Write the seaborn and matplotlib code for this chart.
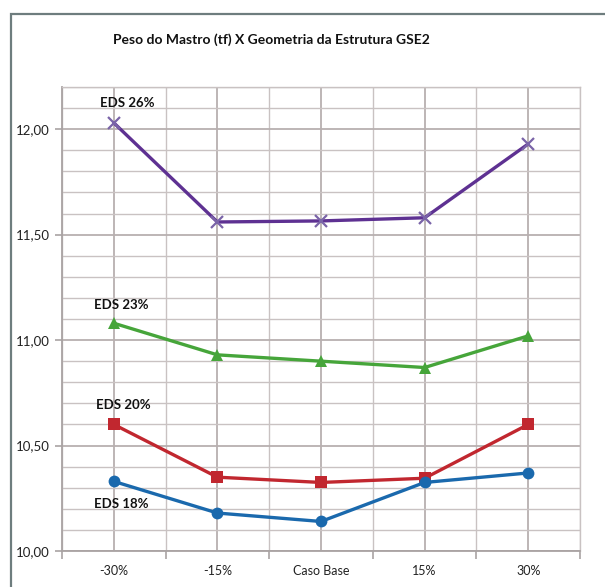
import matplotlib
matplotlib.use("Agg")
import matplotlib.pyplot as plt
from matplotlib.patches import Rectangle
from matplotlib.ticker import MultipleLocator, FixedLocator
import pandas as pd
import seaborn as sns

# Geometry cases on the x axis
categories = ["-30%", "-15%", "Caso Base", "15%", "30%"]

# Mast weight (tf) for each EDS level
eds26 = [12.03, 11.56, 11.565, 11.58, 11.93]
eds23 = [11.08, 10.93, 10.90, 10.87, 11.02]
eds20 = [10.60, 10.35, 10.325, 10.345, 10.60]
eds18 = [10.33, 10.18, 10.14, 10.325, 10.37]

series_names = ["EDS 26%", "EDS 23%", "EDS 20%", "EDS 18%"]
series_values = [eds26, eds23, eds20, eds18]

y_ticks = [10.0, 10.5, 11.0, 11.5, 12.0]
y_tick_labels = ["10,00", "10,50", "11,00", "11,50", "12,00"]

sns.set_style("white")
plt.rcParams["font.family"] = ["Lato", "DejaVu Sans"]

fig = plt.figure(figsize=(6.05, 5.87), dpi=100)
ax = fig.add_axes([62 / 605, 1 - 551 / 587, (580 - 62) / 605, (551 - 87) / 587])

styles = {
    "EDS 26%": dict(color="#5e3192", marker="x", ms=9, mew=1.6, mec="#7a64a8"),
    "EDS 23%": dict(color="#46a53a", marker="^", ms=8, mew=0, mec="#46a53a"),
    "EDS 20%": dict(color="#c1272f", marker="s", ms=8, mew=0, mec="#c1272f"),
    "EDS 18%": dict(color="#1a69ad", marker="o", ms=8.5, mew=0, mec="#1a69ad"),
}

frames = []
for name, vals in zip(series_names, series_values):
    frames.append(pd.DataFrame({"caso": categories, "peso": vals, "serie": name}))
df = pd.concat(frames, ignore_index=True)

for name in series_names:
    st = styles[name]
    sub = df[df["serie"] == name]
    sns.lineplot(data=sub, x="caso", y="peso", ax=ax, color=st["color"],
                 linewidth=2.4, marker=st["marker"], markersize=st["ms"],
                 markeredgewidth=st["mew"], markeredgecolor=st["mec"],
                 markerfacecolor=st["color"], sort=False, zorder=3)

# Series labels next to the first point
label_offsets = {
    "EDS 26%": (13, 20),
    "EDS 23%": (7, 18),
    "EDS 20%": (10, 19),
    "EDS 18%": (7, -23),
}
for name, vals in zip(series_names, series_values):
    dx, dy = label_offsets[name]
    ax.annotate(name, xy=(0, vals[0]), xytext=(dx, dy), textcoords="offset pixels",
                ha="center", va="center", fontsize=9.5, fontweight="bold",
                color="#111111", zorder=4)

ax.set_xlim(-0.5, 4.5)
ax.set_ylim(10.0, 12.2)
ax.set_xlabel("")
ax.set_ylabel("")

ax.yaxis.set_major_locator(FixedLocator(y_ticks))
ax.set_yticklabels(y_tick_labels)
ax.yaxis.set_minor_locator(MultipleLocator(0.1))
ax.xaxis.set_major_locator(FixedLocator(range(len(categories))))
ax.set_xticklabels(categories)
ax.xaxis.set_minor_locator(MultipleLocator(0.5))

grid_col = "#c9c2c2"
ax.grid(which="minor", axis="both", color=grid_col, linewidth=1.0, zorder=0)
ax.grid(which="major", axis="both", color="#b8b0b0", linewidth=1.3, zorder=0)
ax.set_axisbelow(True)

ax.tick_params(axis="x", which="major", length=0, pad=10, labelsize=9, labelcolor="#222222")
ax.tick_params(axis="x", which="minor", length=6, width=1.2, color="#a9a3a3", bottom=True)
ax.tick_params(axis="y", which="major", length=5, width=1.2, color="#a9a3a3", pad=4,
               labelsize=9.5, labelcolor="#222222", left=True)
ax.tick_params(axis="y", which="minor", length=0)

for side in ["top", "right"]:
    ax.spines[side].set_visible(True)
    ax.spines[side].set_color(grid_col)
    ax.spines[side].set_linewidth(1.0)
for side in ["left", "bottom"]:
    ax.spines[side].set_color("#a9a3a3")
    ax.spines[side].set_linewidth(1.3)

fig.text(271 / 605, 1 - 40 / 587, "Peso do Mastro (tf) X Geometria da Estrutura GSE2",
         ha="center", va="center", fontsize=10, fontweight="bold", color="#111111")

# Outer chart frame
fig.patches.append(Rectangle((11 / 605, -0.05), 1.0, 1 - 14 / 587 + 0.05,
                             transform=fig.transFigure, fill=False,
                             edgecolor="#6e7d7e", linewidth=1.6))

fig.savefig("out.png", dpi=100)
